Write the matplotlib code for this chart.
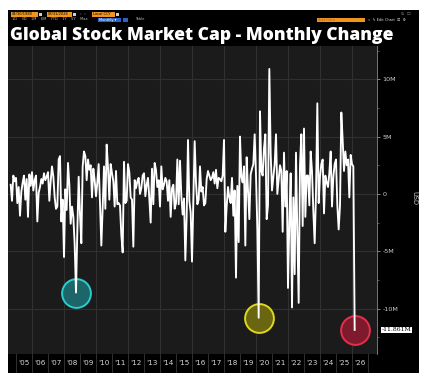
import numpy as np
import pandas as pd
import matplotlib
matplotlib.use("Agg")
import matplotlib.pyplot as plt
from matplotlib.patches import Rectangle
from matplotlib.transforms import blended_transform_factory

# ---------------- data (monthly change, USD millions as labelled) -------------
start_month = "2004-09"
y2004 = [0.8, -0.6, 1.6, 1.1]
y2005 = [1.4, -0.8, 0.6, -1.9, 0.2, 1.0, 1.6, -0.5, 1.3, -2.0, 1.7, 0.7]
y2006 = [1.9, 0.3, 1.2, 1.6, -2.4, 0.1, 0.6, 1.3, 0.9, 1.8, 1.2, 1.5]
y2007 = [1.9, -0.6, 1.1, 2.4, 1.5, -0.3, -1.3, -1.1, 3.0, 3.3, -2.4, -0.5]
y2008 = [-5.5, 0.4, -1.4, 2.7, 0.8, -2.6, -1.1, -2.0, -4.4, -8.6, -3.2, 1.5]
y2009 = [-1.8, -4.3, 2.4, 3.7, 3.3, 1.2, 3.0, 2.1, 2.5, -0.3, 2.2, 1.2]
y2010 = [-0.2, 1.0, 2.6, -0.8, -4.5, -1.2, 2.4, -1.3, 4.3, 2.3, -0.5, 2.6]
y2011 = [1.8, 1.1, -1.1, 2.0, -0.9, -0.8, -1.0, -3.6, -5.1, 2.8, -0.8, -0.6]
y2012 = [2.6, 1.9, -0.3, -0.5, -4.6, 1.2, 0.5, 1.1, 1.4, 0.0, 0.5, 1.6]
y2013 = [1.8, -0.2, 0.8, 1.4, -0.4, -2.5, 2.2, -0.9, 2.7, 2.1, 0.6, 1.2]
y2014 = [-1.1, 2.4, 0.4, 0.8, 1.4, 1.1, -0.6, 1.2, -2.0, 0.5, 0.8, -1.3]
y2015 = [-0.8, 3.0, -0.9, 2.9, -0.2, -1.8, -0.4, -5.8, -2.0, 4.7, -0.6, -1.6]
y2016 = [-5.9, -0.5, 4.6, 1.0, -0.9, -0.5, 2.4, 0.2, 0.6, -1.0, -0.8, 1.3]
y2017 = [2.0, 1.6, 1.2, 1.4, 1.9, 0.9, 2.1, 0.5, 1.4, 1.3, 1.1, 1.6]
y2018 = [4.7, -3.3, -1.1, 0.6, -0.3, -0.8, 1.4, -1.9, 0.3, -7.3, 0.7, -4.2]
y2019 = [5.0, 1.5, 1.0, 2.4, -4.5, 3.2, 0.3, -2.2, 1.7, 2.2, 2.6, 5.2]
y2020 = [1.6, -3.0, -10.8, 7.2, 2.0, 1.6, 4.0, 5.2, -2.2, -1.0, 10.9, 3.5]
y2021 = [0.3, 1.5, 2.6, 5.2, 0.0, 1.2, 2.5, 2.0, -3.3, 3.6, -1.1, 2.0]
y2022 = [-8.2, -2.5, 1.8, -9.9, -0.3, -7.0, 3.6, -3.5, -9.5, 2.5, 5.2, -2.8]
y2023 = [5.7, -2.0, 1.6, 1.6, -1.0, 3.7, 2.0, -1.5, -4.3, 0.0, 7.9, -0.8]
y2024 = [1.5, 2.6, 3.0, -1.7, 1.6, 1.0, 0.6, 1.8, 3.7, -1.1, 1.5, 2.6]
y2025 = [3.0, -1.0, -3.1, -1.0, 7.1, 4.7, 2.0, 3.7, 2.5, 3.0, -0.3, 3.4]
y2026 = [2.6, 2.4, -11.861]

highlight_dates = ["2008-10", "2020-03", "2026-03"]
highlight_edge = ["#2fd3d3", "#e8e020", "#e8334f"]
highlight_fill = ["#1d6b6e", "#6f6a10", "#85192f"]

year_labels = ["'05", "'06", "'07", "'08", "'09", "'10", "'11", "'12", "'13", "'14", "'15",
               "'16", "'17", "'18", "'19", "'20", "'21", "'22", "'23", "'24", "'25", "'26"]
y_ticks = [-10, -5, 0, 5, 10]
y_ticklabels = ["-10M", "-5M", "0", "5M", "10M"]
last_label = "-11.861M"
title = "Global Stock Market Cap - Monthly Change"

values = (y2004 + y2005 + y2006 + y2007 + y2008 + y2009 + y2010 + y2011 + y2012 + y2013 +
          y2014 + y2015 + y2016 + y2017 + y2018 + y2019 + y2020 + y2021 + y2022 + y2023 +
          y2024 + y2025 + y2026)
dates = pd.period_range(start_month, periods=len(values), freq="M")
series = pd.Series(values, index=dates)
xpos = np.array([p.year + (p.month - 1) / 12 for p in dates])

# ---------------- figure -------------------------------------------------------
W, H = 427, 378
fig = plt.figure(figsize=(W / 100, H / 100), dpi=100, facecolor="white")

bg = fig.add_axes([0, 0, 1, 1])
bg.set_xlim(0, W)
bg.set_ylim(H, 0)
bg.axis("off")

# black panel
bg.add_patch(Rectangle((8, 10), 411, 363, fc="black", ec="none"))

def box(x, y, w, h, fc, txt=None, tc="black", fs=2.6):
    bg.add_patch(Rectangle((x, y), w, h, fc=fc, ec="none"))
    if txt:
        bg.text(x + 1, y + h / 2, txt, color=tc, fontsize=fs, va="center", ha="left")

# toolbar row 1
box(11, 12, 27, 4.5, "#f0961e", "04/30/1980")
box(39, 12.5, 3, 3.5, "#cfcfcf")
box(47, 12, 25, 4.5, "#f0961e", "03/31/2026")
box(73, 12.5, 3, 3.5, "#cfcfcf")
bg.text(80, 14.3, "\u2039  \u203a", color="#bbbbbb", fontsize=3, va="center")
box(92, 12, 23, 4.5, "#f0961e", "Local CCY")
box(116, 12.5, 3, 3.5, "#cfcfcf")
bg.text(401, 14.3, "\u21bb  \u2610", color="#888888", fontsize=3, va="center")
# toolbar row 2
bg.text(12, 19.5, "1D    3D    1M    6M    YTD    1Y    5Y    Max", color="#bdbdbd",
        fontsize=2.6, va="center")
box(98, 17.5, 23, 4.2, "#2a63c9", "Monthly \u25be", tc="white")
box(123, 17.5, 5, 4.2, "#2a63c9")
bg.text(135, 19.5, "Table", color="#bdbdbd", fontsize=2.6, va="center")
box(317, 17.5, 48, 4.2, "#f0961e", "Add Data", tc="#b86a10")
bg.text(368, 19.5, "\u00ab  \u270e Edit Chart  \u2611  \u2699", color="#dddddd",
        fontsize=2.6, va="center")

# title (fit to width)
t = bg.text(10, 35, title, color="white", fontsize=13, fontweight="heavy",
            va="center", ha="left", family="Open Sans")
fig.canvas.draw()
r = fig.canvas.get_renderer()
wpx = t.get_window_extent(r).width
t.set_fontsize(13 * 381 / wpx)

# ---------------- main axes ------------------------------------------------------
px0, px1, py0, py1 = 8, 377, 46, 354
ax = fig.add_axes([px0 / W, 1 - py1 / H, (px1 - px0) / W, (py1 - py0) / H])
ax.set_facecolor("#1b1b1b")
ax.set_xlim(2004.5, 2027.5625)
ax.set_ylim(-13.96, 12.9)

for v in y_ticks:
    ax.axhline(v, color="#303030", lw=0.8, zorder=0)
for yr in range(2006, 2028, 2):
    ax.axvline(yr, color="#303030", lw=0.8, zorder=0)

# highlight circles
for d, ec, fc in zip(highlight_dates, highlight_edge, highlight_fill):
    p = pd.Period(d, freq="M")
    xx = p.year + (p.month - 1) / 12
    ax.scatter([xx], [series[p]], s=430, facecolor=fc, edgecolor=ec, linewidth=1.4,
               zorder=2, alpha=0.95)

ax.plot(xpos, series.values, color="white", lw=1.35, zorder=3)

# right axis
ax.yaxis.tick_right()
ax.set_yticks(y_ticks)
ax.set_yticklabels(y_ticklabels)
ax.set_yticks(np.arange(-12.5, 13, 2.5), minor=True)
ax.tick_params(axis="y", which="major", length=2.5, width=0.6, color="#9a9a9a",
               labelcolor="#cfcfcf", labelsize=4.6, pad=1.5)
ax.tick_params(axis="y", which="minor", length=1.5, width=0.5, color="#777777")
for s in ["top", "left", "bottom"]:
    ax.spines[s].set_visible(False)
ax.spines["right"].set_color("#8a8a8a")
ax.spines["right"].set_linewidth(0.6)

# x labels at year centres
ax.set_xticks([])
ax.set_xticks([2005.5 + i for i in range(len(year_labels))], minor=True)
ax.set_xticklabels(year_labels, minor=True)
ax.tick_params(axis="x", which="minor", length=0, labelcolor="#d8d8d8", labelsize=5.2, pad=4.5)

# last value label
tr = blended_transform_factory(ax.transAxes, ax.transData)
ax.text(1.012, y2026[-1], last_label, transform=tr, color="black", fontsize=4.4,
        va="center", ha="left", family="DejaVu Serif",
        bbox=dict(boxstyle="square,pad=0.12", fc="white", ec="none"), clip_on=False)

# axis unit label in the right-hand strip
bg.text(414, 198, "USD", rotation=270, color="#cfcfcf", fontsize=4.8, va="center", ha="center")

# year separators under the plot
for k in range(0, 23):
    xx = 16 + 16 * k
    bg.plot([xx, xx], [354, 372], color="#3a3a3a", lw=0.6)

# bottom-left controls inside plot
bg.add_patch(Rectangle((78, 339.5), 19, 5, fc="#333333", ec="none"))
bg.text(80, 342, "\u2699 Reset", color="#bbbbbb", fontsize=2.5, va="center")
bg.text(12, 349, "+ Track    \u2713 Annotate    \u2261 News    \u25cb Zoom", color="#8a8a8a",
        fontsize=2.5, va="center")

fig.savefig("out.png", dpi=100, facecolor="white")
